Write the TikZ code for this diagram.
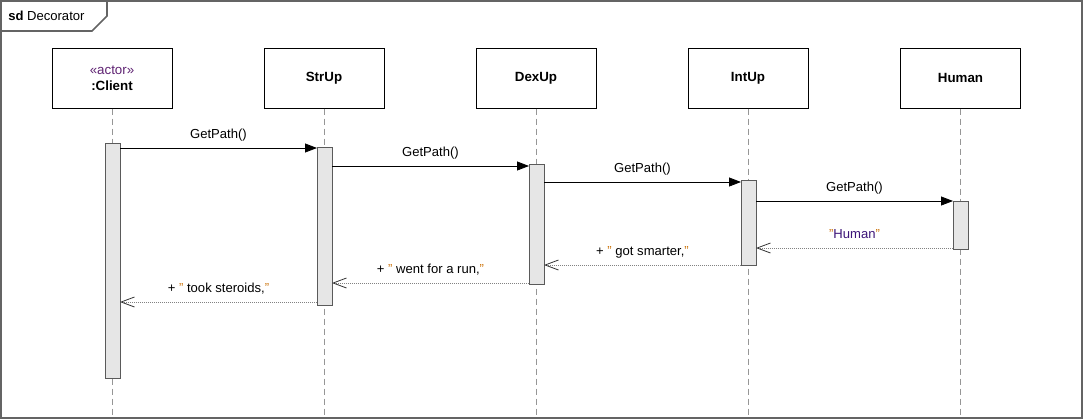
\documentclass[tikz,border=0pt]{standalone}
\usepackage{fontspec}
\setmainfont{Liberation Sans}
\usetikzlibrary{arrows.meta}

\definecolor{framegray}{RGB}{100,100,100}
\definecolor{bargray}{RGB}{90,90,90}
\definecolor{barfill}{RGB}{230,230,230}
\definecolor{dashgray}{RGB}{150,150,150}
\definecolor{dotgray}{RGB}{130,130,130}
\definecolor{quotec}{RGB}{205,120,20}
\definecolor{stereoc}{RGB}{95,35,115}
\definecolor{humanc}{RGB}{60,20,120}

\tikzset{
  head/.style={draw=black, fill=white, line width=0.75pt, minimum width=90pt, minimum height=45pt, inner sep=0pt, align=center, font=\bfseries},
  actbar/.style={draw=bargray, fill=barfill, line width=0.75pt, minimum width=11.25pt, inner sep=0pt},
  lifeline/.style={draw=dashgray, line width=0.6pt, dash pattern=on 4.5pt off 3pt},
  call/.style={draw=black, line width=0.6pt, -{Triangle[length=9pt,width=6.75pt]}},
  reply/.style={draw=dotgray, line width=0.5pt, dash pattern=on 0.75pt off 0.75pt, -{Straight Barb[length=10pt,width=7.5pt,line width=0.6pt,color=black!80]}},
  lbl/.style={midway, above=5.2pt, inner sep=0pt, text height=7.2pt, text depth=2pt}
}
\newcommand{\qt}{{\color{quotec}"}}

\begin{document}
\begin{tikzpicture}[x=0.75pt,y=0.75pt,yscale=-1,font=\fontsize{9.8}{11.8}\selectfont]
\useasboundingbox (0,0) rectangle (1083,419);

%Frame
\draw[framegray, line width=1.5pt] (1,1) rectangle (1082,418);
\draw[framegray, line width=1.2pt] (1,31) -- (92,31) -- (107,16) -- (107,1);
% Text Node
\node[anchor=west, inner sep=0pt] (title) at (8,16) {\textbf{sd} Decorator};

%Lifeline heads
\node[head] (client) at (112,78) {{\mdseries\color{stereoc}«actor»}\\:Client};
\node[head] (str) at (324,78) {StrUp};
\node[head] (dex) at (536,78) {DexUp};
\node[head] (int) at (748,78) {IntUp};
\node[head] (human) at (960.5,78) {Human};

%Lifeline ends
\coordinate (clientEnd) at (112,418);
\coordinate (strEnd) at (324,418);
\coordinate (dexEnd) at (536,418);
\coordinate (intEnd) at (748,418);
\coordinate (humanEnd) at (960.5,418);

%Lifelines
\draw[lifeline] (client.south) -- (clientEnd);
\draw[lifeline] (str.south) -- (strEnd);
\draw[lifeline] (dex.south) -- (dexEnd);
\draw[lifeline] (int.south) -- (intEnd);
\draw[lifeline] (human.south) -- (humanEnd);

%Activation bars
\node[actbar, minimum height=176.25pt] (clientBar) at (112.5,260.5) {};
\node[actbar, minimum height=118.5pt] (strBar) at (324.5,226) {};
\node[actbar, minimum height=90pt] (dexBar) at (536.5,224) {};
\node[actbar, minimum height=63.75pt] (intBar) at (748.5,222.5) {};
\node[actbar, minimum height=36pt] (humanBar) at (960.5,225) {};

%Message ends
\coordinate (m1a) at (120,148);  \coordinate (m1b) at (317,148);
\coordinate (m2a) at (332,166);  \coordinate (m2b) at (529,166);
\coordinate (m3a) at (544,182);  \coordinate (m3b) at (741,182);
\coordinate (m4a) at (756,201);  \coordinate (m4b) at (953,201);
\coordinate (r1a) at (953,248);  \coordinate (r1b) at (756,248);
\coordinate (r2a) at (741,265);  \coordinate (r2b) at (544,265);
\coordinate (r3a) at (529,283);  \coordinate (r3b) at (332,283);
\coordinate (r4a) at (317,302);  \coordinate (r4b) at (120,302);

%Calls
\draw[call] (m1a) -- node[lbl] (l1) {GetPath()} (m1b);
\draw[call] (m2a) -- node[lbl] (l2) {GetPath()} (m2b);
\draw[call] (m3a) -- node[lbl] (l3) {GetPath()} (m3b);
\draw[call] (m4a) -- node[lbl] (l4) {GetPath()} (m4b);

%Replies
\draw[reply] (r1a) -- node[lbl] (l5) {\qt{\color{humanc}Human}\qt} (r1b);
\draw[reply] (r2a) -- node[lbl] (l6) {+ \qt\ got smarter,\qt} (r2b);
\draw[reply] (r3a) -- node[lbl] (l7) {+ \qt\ went for a run,\qt} (r3b);
\draw[reply] (r4a) -- node[lbl] (l8) {+ \qt\ took steroids,\qt} (r4b);

\end{tikzpicture}
\end{document}
